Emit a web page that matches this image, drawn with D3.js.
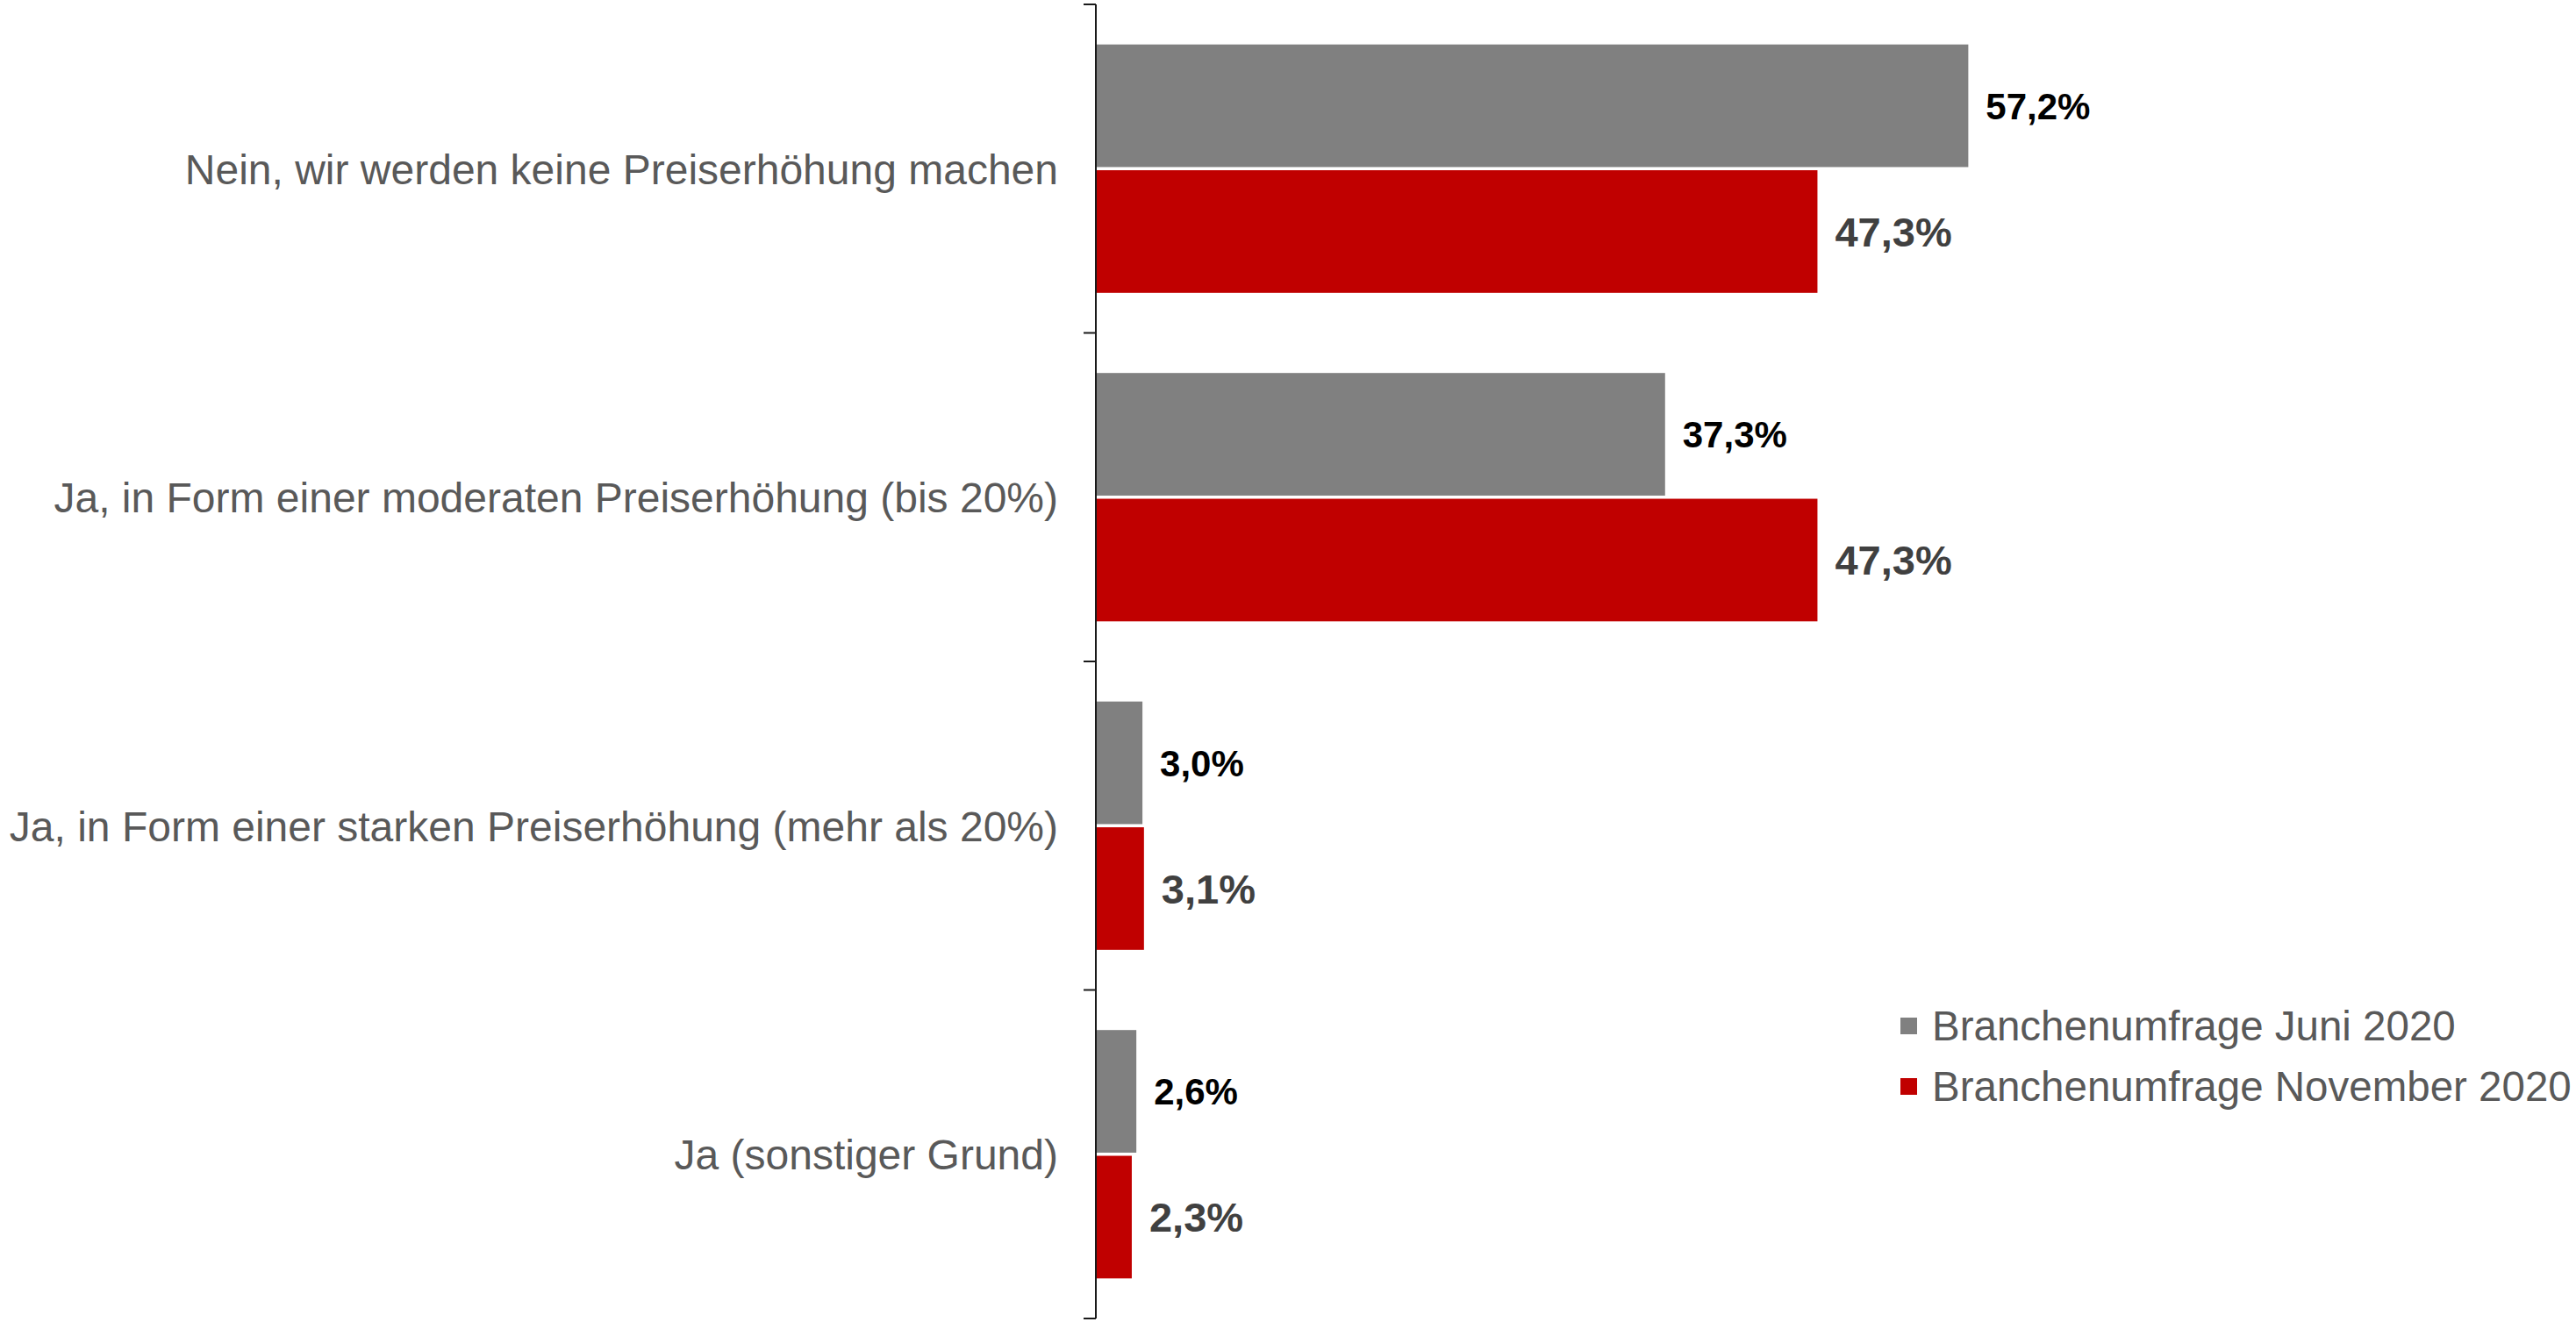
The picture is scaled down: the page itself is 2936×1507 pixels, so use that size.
<!DOCTYPE html>
<html>
<head>
<meta charset="utf-8">
<script src="https://cdn.jsdelivr.net/npm/d3@7"></script>
<style>
    body { margin: 0; background: #ffffff; }
    svg { display: block; font-family: "Liberation Sans", Arial, sans-serif; }
</style>
</head>
<body>
<div id="chart"></div>
<script>
// data
var categories = [
    "Nein, wir werden keine Preiserhöhung machen",
    "Ja, in Form einer moderaten Preiserhöhung (bis 20%)",
    "Ja, in Form einer starken Preiserhöhung (mehr als 20%)",
    "Ja (sonstiger Grund)"
];
var seriesNames = ["Branchenumfrage Juni 2020", "Branchenumfrage November 2020"];
var juni2020 = [57.2, 37.3, 3.0, 2.6];
var november2020 = [47.3, 47.3, 3.1, 2.3];

var width = 2936,
    height = 1507,
    colors = ["#808080", "#c00000"],
    labelColors = ["#000000", "#404040"],
    labelSizes = [42, 47];

var svg = d3.select("#chart")
        .append("svg")
        .attr("width", width)
        .attr("height", height);

var x = d3.scaleLinear()
        .domain([0, 60])
        .range([1250, 2292]);
var y = d3.scaleBand()
        .domain(categories)
        .range([5, 1503])
        .padding(0);
var groupPad = y.step() * 0.122;
var y1 = d3.scaleBand()
        .domain(seriesNames)
        .range([groupPad, y.step() - groupPad])
        .paddingInner(0.025);

var rows = categories.map(function(c, i) {
    return {cat: c, values: [juni2020[i], november2020[i]]};
});

// bars
var group = svg.selectAll(".group")
        .data(rows)
        .enter().append("g")
        .attr("class", "group")
        .attr("transform", function(d) { return "translate(0," + y(d.cat) + ")"; });

group.selectAll("rect")
    .data(function(d) { return d.values.map(function(v, j) { return {s: j, v: v}; }); })
    .enter().append("rect")
    .attr("x", x(0))
    .attr("y", function(d) { return y1(seriesNames[d.s]); })
    .attr("width", function(d) { return x(d.v) - x(0); })
    .attr("height", y1.bandwidth())
    .attr("fill", function(d) { return colors[d.s]; });

// value labels
group.selectAll(".val")
    .data(function(d) { return d.values.map(function(v, j) { return {s: j, v: v}; }); })
    .enter().append("text")
    .attr("class", "val")
    .attr("x", function(d) { return x(d.v) + 20; })
    .attr("y", function(d) { return y1(seriesNames[d.s]) + y1.bandwidth() / 2; })
    .attr("dy", "0.36em")
    .attr("fill", function(d) { return labelColors[d.s]; })
    .style("font-size", function(d) { return labelSizes[d.s] + "px"; })
    .style("font-weight", "bold")
    .text(function(d) { return d3.format(".1f")(d.v).replace(".", ",") + "%"; });

// category axis (ticks between groups)
var axis = svg.append("g").attr("class", "axis");
axis.append("line")
    .attr("x1", x(0) - 1).attr("x2", x(0) - 1)
    .attr("y1", y.range()[0]).attr("y2", y.range()[1])
    .attr("stroke", "#1a1a1a")
    .attr("stroke-width", 2);
var tickPos = categories.map(function(c) { return y(c); }).concat([y.range()[1]]);
axis.selectAll(".tick")
    .data(tickPos)
    .enter().append("line")
    .attr("class", "tick")
    .attr("x1", x(0) - 15).attr("x2", x(0) - 1)
    .attr("y1", function(d) { return d; })
    .attr("y2", function(d) { return d; })
    .attr("stroke", "#1a1a1a")
    .attr("stroke-width", 2);
axis.selectAll(".cat")
    .data(categories)
    .enter().append("text")
    .attr("class", "cat")
    .attr("x", 1206)
    .attr("y", function(d) { return y(d) + y.bandwidth() / 2; })
    .attr("dy", "0.36em")
    .attr("text-anchor", "end")
    .attr("fill", "#595959")
    .style("font-size", "48px")
    .text(function(d) { return d; });

// legend
var legend = svg.append("g")
        .attr("transform", "translate(2166,1160)");
var item = legend.selectAll(".item")
        .data(seriesNames)
        .enter().append("g")
        .attr("class", "item")
        .attr("transform", function(d, i) { return "translate(0," + (i * 69) + ")"; });
item.append("rect")
    .attr("width", 19)
    .attr("height", 19)
    .attr("fill", function(d, i) { return colors[i]; });
item.append("text")
    .attr("x", 36)
    .attr("y", 26)
    .attr("fill", "#595959")
    .style("font-size", "47.5px")
    .text(function(d) { return d; });
</script>
</body>
</html>
